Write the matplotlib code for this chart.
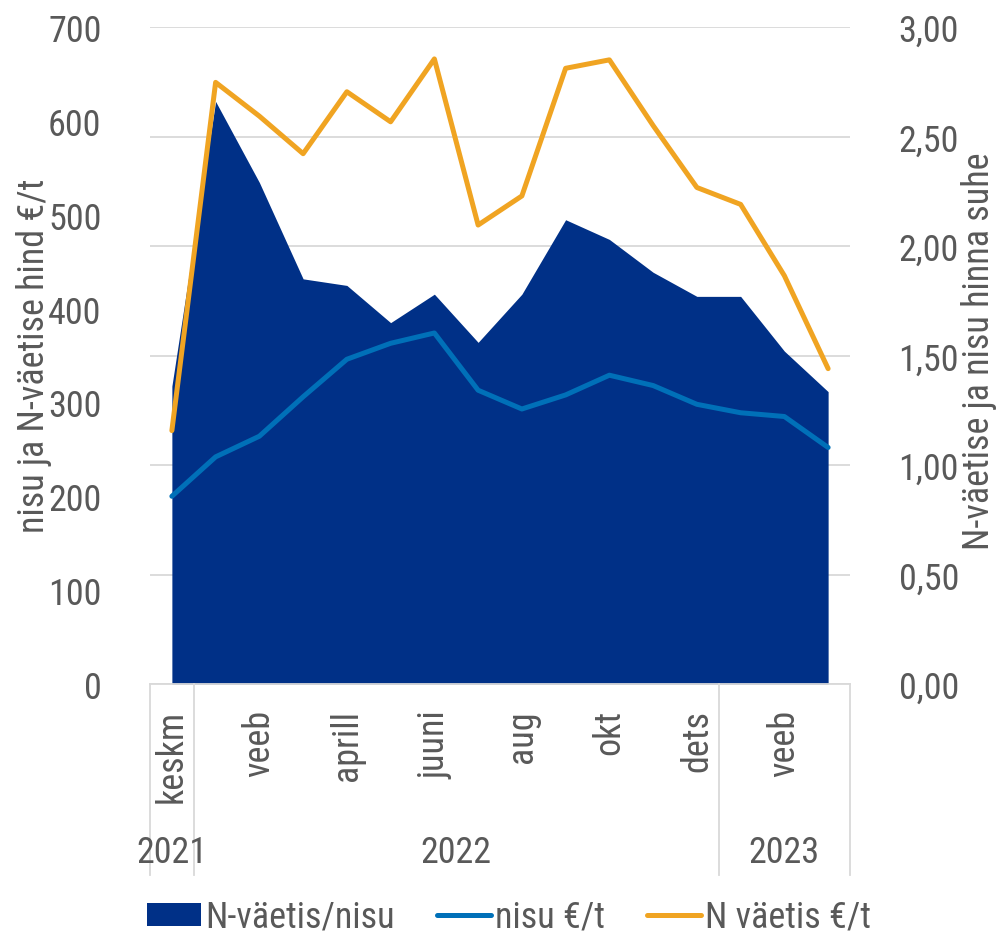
import matplotlib
matplotlib.use("Agg")
import matplotlib.pyplot as plt
import matplotlib.transforms as mtransforms
from matplotlib.patches import Patch
from matplotlib.lines import Line2D

categories = ["keskm", "jaan", "veeb", "märts", "aprill", "mai", "juuni", "juuli",
              "aug", "sept", "okt", "nov", "dets", "jaan", "veeb", "märts"]
years = ["2021", "2022", "2023"]
year_groups = [(0, 0), (1, 12), (13, 15)]
nisu = [200, 242, 264, 306, 346, 363, 374, 313, 293, 308, 329, 318, 298, 289, 285, 252]
vaetis = [270, 641, 605, 565, 631, 599, 666, 489, 520, 656, 665, 595, 529, 511, 435, 336]
suhe = [1.36, 2.66, 2.29, 1.85, 1.82, 1.65, 1.78, 1.56, 1.78, 2.12, 2.03, 1.88, 1.77, 1.77, 1.52, 1.335]
left_ticks = [0, 100, 200, 300, 400, 500, 600, 700]
right_ticks = [0, 0.5, 1.0, 1.5, 2.0, 2.5, 3.0]

C_AREA = "#003087"
C_NISU = "#0070B8"
C_VAET = "#F0A422"
C_TEXT = "#595959"
C_GRID = "#D9D9D9"

FONT = ["Roboto Condensed", "Liberation Sans Narrow", "Roboto", "DejaVu Sans"]
FS = 26

fig = plt.figure(figsize=(9.98, 9.37), dpi=100)
ax = fig.add_axes([150 / 998, 1 - 685 / 937, 700 / 998, 657 / 937])
ax2 = ax.twinx()

x = list(range(len(categories)))

# area on the ratio axis (host), lines on twin (drawn above)
ax.fill_between(x, 0, suhe, color=C_AREA, linewidth=0, zorder=2)
ax.set_ylim(0, 3.0)
ax.set_xlim(-0.5, len(categories) - 0.5)
ax.set_yticks(right_ticks)
ax.set_yticklabels([f"{v:.2f}".replace(".", ",") for v in right_ticks])
ax.yaxis.tick_right()
ax.grid(axis="y", color=C_GRID, linewidth=1.3)
ax.set_axisbelow(True)

ax2.plot(x, nisu, color=C_NISU, lw=3.6, solid_capstyle="round", solid_joinstyle="round", zorder=3)
ax2.plot(x, vaetis, color=C_VAET, lw=3.6, solid_capstyle="round", solid_joinstyle="round", zorder=4)
ax2.set_ylim(0, 700)
ax2.set_yticks(left_ticks)
ax2.yaxis.tick_left()

for a in (ax, ax2):
    for s in a.spines.values():
        s.set_visible(False)
    a.tick_params(axis="y", length=0, labelsize=FS, labelcolor=C_TEXT, pad=35)
for lab in ax.get_yticklabels() + ax2.get_yticklabels():
    lab.set_family(FONT)

ax.spines["bottom"].set_visible(True)
ax.spines["bottom"].set_color(C_GRID)
ax.spines["bottom"].set_linewidth(1.3)

# month ticks (every other shown)
shown = list(range(0, len(categories), 2))
ax.set_xticks(shown)
ax.set_xticklabels([categories[i] for i in shown], rotation=90, va="top", ha="center",
                   family=FONT, fontsize=FS, color=C_TEXT)
ax.tick_params(axis="x", length=0, pad=18)

# group separators
trans = mtransforms.blended_transform_factory(ax.transData, ax.transAxes)
bottom_y = -(876 - 685) / 657
bounds = [-0.5] + [g[1] + 0.5 for g in year_groups]
for b in bounds:
    ax.plot([b, b], [0, bottom_y], transform=trans, color=C_GRID, lw=1.3, clip_on=False)

for name, (a0, a1) in zip(years, year_groups):
    ax.text((a0 + a1) / 2, -(853 - 685) / 657, name, transform=trans, ha="center", va="center",
            family=FONT, fontsize=FS, color=C_TEXT)

fig.text(34 / 998, 1 - 356 / 937, "nisu ja N-väetise hind €/t", rotation=90, ha="center", va="center",
         family=FONT, fontsize=FS, color=C_TEXT)
fig.text(979 / 998, 1 - 152 / 937, "N-väetise ja nisu hinna suhe", rotation=90, ha="center", va="top",
         family=FONT, fontsize=FS, color=C_TEXT)

handles = [Patch(facecolor=C_AREA, edgecolor="none"),
           Line2D([], [], color=C_NISU, lw=3.6, solid_capstyle="round"),
           Line2D([], [], color=C_VAET, lw=3.6, solid_capstyle="round")]
labels = ["N-väetis/nisu", "nisu €/t", "N väetis €/t"]
fig.legend(handles, labels, loc="center", bbox_to_anchor=(509 / 998, 1 - 918 / 937), ncol=3,
           frameon=False, prop={"family": FONT, "size": FS}, labelcolor=C_TEXT,
           handlelength=1.5, handleheight=0.6, handletextpad=0.12, columnspacing=1.15, borderpad=0)

fig.savefig("out.png", dpi=100)
